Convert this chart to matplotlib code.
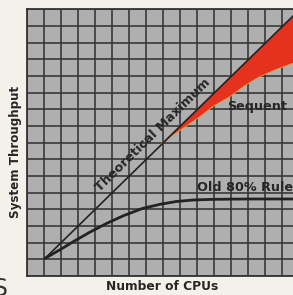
import matplotlib
matplotlib.use("Agg")
import matplotlib.pyplot as plt

# Data (grid-cell units)
theory_x = [1.08, 16.0]
theory_y = [1.06, 15.93]

old_rule_x = [1.08, 2.0, 2.74, 3.7, 4.71, 5.7, 6.8, 7.84, 8.8, 9.8, 11.0, 13.0, 16.0]
old_rule_y = [1.06, 1.6, 2.06, 2.62, 3.16, 3.62, 4.05, 4.3, 4.47, 4.56, 4.6, 4.62, 4.62]

sequent_x = [7.9, 8.6, 9.4, 10.19, 11.0, 11.96, 12.8, 13.7, 14.7, 15.66, 16.0]
sequent_y = [7.93, 8.45, 9.0, 9.56, 10.2, 10.76, 11.4, 11.96, 12.4, 12.76, 12.9]

W, H = 293, 295
fig = plt.figure(figsize=(W / 100, H / 100), dpi=100)
fig.patch.set_facecolor("#f3f1ea")

left, right, top, bottom = 26.7, 298.7, 9.3, 276.0
ax = fig.add_axes([left / W, 1 - bottom / H, (right - left) / W, (bottom - top) / H])
ax.set_facecolor("#afafaf")
ax.set_xlim(0, 16)
ax.set_ylim(0, 16)
ax.set_xticks(range(17))
ax.set_yticks(range(17))
ax.tick_params(length=0, labelbottom=False, labelleft=False)
ax.grid(True, color="#333333", linewidth=1.15)
ax.set_axisbelow(True)
for s in ax.spines.values():
    s.set_color("#333333")
    s.set_linewidth(1.3)

# red wedge between theoretical line and Sequent curve
poly_x = sequent_x + [theory_x[-1]]
poly_y = sequent_y + [theory_y[-1]]
ax.fill(poly_x, poly_y, color="#e5321e", linewidth=0, zorder=3)
ax.plot(sequent_x, sequent_y, color="#e8a040", linewidth=0.6, zorder=3)

ax.plot(theory_x, theory_y, color="#222222", linewidth=1.2, zorder=4)
ax.plot(old_rule_x, old_rule_y, color="#222222", linewidth=2.0, zorder=4,
        solid_capstyle="round")

tc = "#262626"
ax.text(7.4, 8.45, "Theoretical Maximum", rotation=44.5, rotation_mode="anchor",
        ha="center", va="center", fontsize=9.2, fontweight="bold", color=tc, zorder=5)
ax.text(11.78, 10.16, "Sequent", ha="left", va="center", fontsize=9.2,
        fontweight="bold", color=tc, zorder=5)
ax.text(10.02, 5.28, "Old 80% Rule", ha="left", va="center", fontsize=9.2,
        fontweight="bold", color=tc, zorder=5, clip_on=False)

fig.text(16 / W, 1 - 152 / H, "System Throughput", rotation=90, ha="center",
         va="center", fontsize=8.6, fontweight="bold", color=tc)
fig.text(162 / W, 1 - 287 / H, "Number of CPUs", ha="center", va="center",
         fontsize=8.8, fontweight="bold", color=tc)
fig.text(7 / W, 1 - 277 / H, "S", ha="right", va="top", fontsize=17,
         color="#333333")

fig.savefig("out.png", dpi=100, facecolor=fig.get_facecolor())
